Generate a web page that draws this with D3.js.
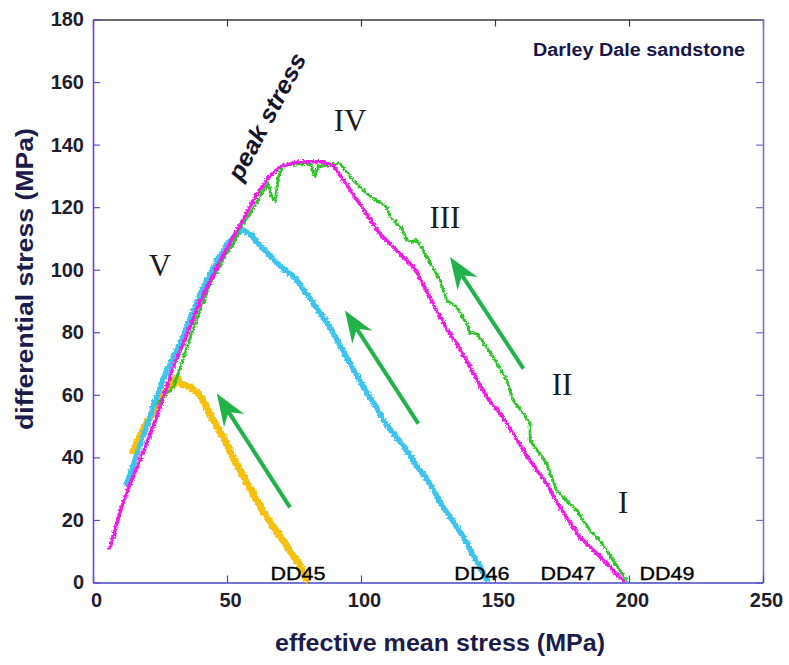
<!DOCTYPE html>
<html>
<head>
<meta charset="utf-8">
<script src="https://cdn.jsdelivr.net/npm/d3@7"></script>
<style>
  body { margin: 0; background: #fff; }
  svg { display: block; }
</style>
</head>
<body>
<svg id="chart" width="789" height="665"></svg>
<script>
// ---------------- DATA ----------------
const xTicks = [0, 50, 100, 150, 200, 250];
const yTicks = [0, 20, 40, 60, 80, 100, 120, 140, 160, 180];

// [effective mean stress, differential stress] in MPa
const dd45 = [[15,42],[18,47.5],[21.3,53],[24.5,58],[27.5,61.4],[29,64.5],[30,63],[31.2,65.5],[33,63.5],[36.2,62.5],[39.9,60],[42.4,56],[45.5,51],[48.6,46.5],[51.7,41],[54.9,35.8],[58,31],[61.1,26.2],[64,22],[67.3,17.7],[70.5,14],[73.5,10.2],[76.5,6.5],[79.7,1]];

const dd46 = [[12.6,31.6],[17.6,44],[22,55],[25.6,63.6],[29,70.5],[32.5,76.4],[37,86],[41,94],[46.2,103],[50,108],[53.6,111.6],[56,112.6],[58.6,111.5],[62,108],[66,104.5],[70,101],[75,97.7],[80,92],[84,87],[88.4,81.7],[92,76],[96,70],[100.9,62.5],[105,57],[109,51],[113.3,46.5],[118,41],[121,37],[125.7,31.6],[130,25],[134,20],[138.2,14.5],[142,8.5],[144.5,5],[146.9,1]];

const dd47 = [[24,57],[30,62.5],[37,80],[43.7,95.6],[49,104],[52.4,108.4],[55,113.5],[58.6,118],[61.7,122.2],[62.9,124.4],[65.4,127.6],[66.7,123.3],[67.9,121.7],[69.2,129.7],[71,133.4],[76,133.8],[81,134],[82.8,129.7],[84,133],[92.2,134],[97.1,128.6],[102.1,124.4],[106,122],[109.6,120.1],[110.8,116.9],[114.6,113.7],[117.7,108.9],[120.8,109.4],[123.2,106.2],[129.5,96.6],[132,90.2],[135.7,88.1],[139.4,82.8],[140.7,79.6],[143.2,79.6],[149.4,72.1],[154.4,64.6],[156.8,58.2],[160.6,54],[163.1,50.8],[163.1,45.4],[169.3,38],[173,29.4],[180.5,23],[185.4,16.6],[189.2,13.4],[194.1,7],[199.1,0.8]];

const dd49 = [[6.3,11],[11.3,26],[17.5,39],[23.8,53],[30,69],[35,79],[40,90],[47,102],[52,110],[56,116],[61,124],[66,130],[70,133],[77,134.5],[86,134.5],[90,133],[96,125.5],[102,118],[107,111.5],[110,109],[114.6,105],[119.5,101],[124,94],[128.2,87],[132,81],[135.7,76.4],[140,70],[144.4,63],[148,58],[152,54],[156.8,47.6],[163,39],[169.3,31.6],[175,23],[181.7,14.5],[186,11],[191.7,6],[195,3],[198,0.5]];

// arrows: [tail mean, tail diff, tip mean, tip diff]
const arrows = [[73.5,24,46.2,60.4],[121.4,50.8,94,87],[160.6,68.4,133.2,104.1]];

const stageLabels = ["IV","III","V","II","I"];
const stageX = [95.9, 131.3, 25, 175, 197.8];
const stageY = [147.9, 116.9, 101.5, 63.5, 25.7];

const sampleLabels = ["DD45","DD46","DD47","DD49"];
const sampleX = [76.5, 145.1, 177.2, 214.2];

// ---------------- CHART ----------------
const svg = d3.select("#chart");
const x = d3.scaleLinear().domain([0, 250]).range([93, 763]);
const y = d3.scaleLinear().domain([0, 180]).range([582.5, 19.5]);

const fontSans = "'Liberation Sans', Arial, Helvetica, sans-serif";
const fontSerif = "'Liberation Serif', 'Times New Roman', serif";

// jagged-edge filter to mimic the noisy recorded traces
const defs = svg.append("defs");
const filt = defs.append("filter").attr("id", "rough")
  .attr("x", "-5%").attr("y", "-5%").attr("width", "110%").attr("height", "110%");
filt.append("feTurbulence").attr("type", "fractalNoise")
  .attr("baseFrequency", 0.45).attr("numOctaves", 2).attr("seed", 3).attr("result", "noise");
filt.append("feDisplacementMap").attr("in", "SourceGraphic").attr("in2", "noise")
  .attr("scale", 4.5).attr("xChannelSelector", "R").attr("yChannelSelector", "G");

// axes
function styleAxis(g, color, showLabels) {
  g.select(".domain").attr("stroke", color).attr("stroke-width", 1.6);
  g.selectAll(".tick line").attr("stroke", color).attr("stroke-width", 1.2);
  g.selectAll(".tick text")
    .attr("font-family", fontSans).attr("font-weight", "bold")
    .attr("font-size", 20).attr("fill", "#1e1e2e");
  if (!showLabels) g.selectAll(".tick text").remove();
}

const gTop = svg.append("g").attr("transform", `translate(0,${y(180)})`)
  .call(d3.axisTop(x).tickValues(xTicks).tickSizeInner(-7).tickSizeOuter(0).tickFormat(""));
styleAxis(gTop, "#3a3a44", false);

const gRight = svg.append("g").attr("transform", `translate(${x(250)},0)`)
  .call(d3.axisRight(y).tickValues(yTicks).tickSizeInner(-7).tickSizeOuter(0).tickFormat(""));
styleAxis(gRight, "#7474c4", false);

const gBottom = svg.append("g").attr("transform", `translate(0,${y(0)})`)
  .call(d3.axisBottom(x).tickValues(xTicks).tickSizeInner(-7).tickSizeOuter(0).tickPadding(10.5));
styleAxis(gBottom, "#4646c8", true);
gBottom.selectAll(".tick text").attr("dx", 3);

const gLeft = svg.append("g").attr("transform", `translate(${x(0)},0)`)
  .call(d3.axisLeft(y).tickValues(yTicks).tickSizeInner(-7).tickSizeOuter(0).tickPadding(9));
styleAxis(gLeft, "#6a44dc", true);

// curves
const line = d3.line().x(d => x(d[0])).y(d => y(d[1]));
const series = [
  {data: dd45, color: "#f7c00a", w: 7},
  {data: dd46, color: "#3cc4ee", w: 5.4},
  {data: dd47, color: "#2fc42a", w: 2.8},
  {data: dd49, color: "#ee1ee6", w: 3.6}
];
svg.append("g").attr("filter", "url(#rough)")
  .selectAll("path").data(series).join("path")
  .attr("d", d => line(d.data))
  .attr("fill", "none")
  .attr("stroke", d => d.color)
  .attr("stroke-width", d => d.w)
  .attr("stroke-linejoin", "round")
  .attr("stroke-linecap", "round");

// arrows
const arrowColor = "#22b24a";
const ga = svg.append("g");
arrows.forEach(a => {
  const tx = x(a[0]), ty = y(a[1]), hx = x(a[2]), hy = y(a[3]);
  const dx = hx - tx, dy = hy - ty, L = Math.hypot(dx, dy);
  const ux = dx / L, uy = dy / L, px = -uy, py = ux;
  const headLen = 32, half = 12, notch = 22;
  const bx = hx - ux * headLen, by = hy - uy * headLen;
  const nx = hx - ux * notch, ny = hy - uy * notch;
  ga.append("line")
    .attr("x1", tx).attr("y1", ty).attr("x2", nx).attr("y2", ny)
    .attr("stroke", arrowColor).attr("stroke-width", 4);
  ga.append("path")
    .attr("d", `M${hx},${hy}L${bx + px * half},${by + py * half}L${nx},${ny}L${bx - px * half},${by - py * half}Z`)
    .attr("fill", arrowColor);
});

// stage labels
svg.append("g").selectAll("text").data(stageLabels).join("text")
  .attr("x", (d, i) => x(stageX[i]))
  .attr("y", (d, i) => y(stageY[i]))
  .attr("dy", "0.35em")
  .attr("text-anchor", "middle")
  .attr("font-family", fontSerif)
  .attr("font-size", 31)
  .attr("fill", "#1c1c1c")
  .text(d => d);

// sample labels
svg.append("g").selectAll("text").data(sampleLabels).join("text")
  .attr("x", (d, i) => x(sampleX[i]))
  .attr("y", 579.5)
  .attr("text-anchor", "middle")
  .attr("font-family", fontSans)
  .attr("font-size", 19)
  .attr("textLength", 55)
  .attr("lengthAdjust", "spacingAndGlyphs")
  .attr("fill", "#000")
  .attr("stroke", "#000").attr("stroke-width", 0.35)
  .text(d => d);

// peak stress
svg.append("text")
  .attr("transform", `translate(${x(64.8)},${y(149)}) rotate(-62)`)
  .attr("text-anchor", "middle")
  .attr("dy", "0.35em")
  .attr("font-family", fontSans)
  .attr("font-weight", "bold")
  .attr("font-style", "italic")
  .attr("font-size", 24)
  .attr("textLength", 140).attr("lengthAdjust", "spacingAndGlyphs")
  .attr("fill", "#14142a")
  .text("peak stress");

// title
svg.append("text")
  .attr("x", 533).attr("y", 55.5)
  .attr("font-family", fontSans).attr("font-weight", "bold").attr("font-size", 18)
  .attr("textLength", 212).attr("lengthAdjust", "spacingAndGlyphs")
  .attr("fill", "#16164a")
  .text("Darley Dale sandstone");

// axis titles
svg.append("text")
  .attr("x", 440).attr("y", 651)
  .attr("text-anchor", "middle")
  .attr("font-family", fontSans).attr("font-weight", "bold").attr("font-size", 23)
  .attr("textLength", 330).attr("lengthAdjust", "spacingAndGlyphs")
  .attr("fill", "#1c1c4c")
  .text("effective mean stress (MPa)");

svg.append("text")
  .attr("transform", "translate(33,279) rotate(-90)")
  .attr("text-anchor", "middle")
  .attr("font-family", fontSans).attr("font-weight", "bold").attr("font-size", 23)
  .attr("textLength", 302).attr("lengthAdjust", "spacingAndGlyphs")
  .attr("fill", "#1c1c4c")
  .text("differential stress (MPa)");
</script>
</body>
</html>
